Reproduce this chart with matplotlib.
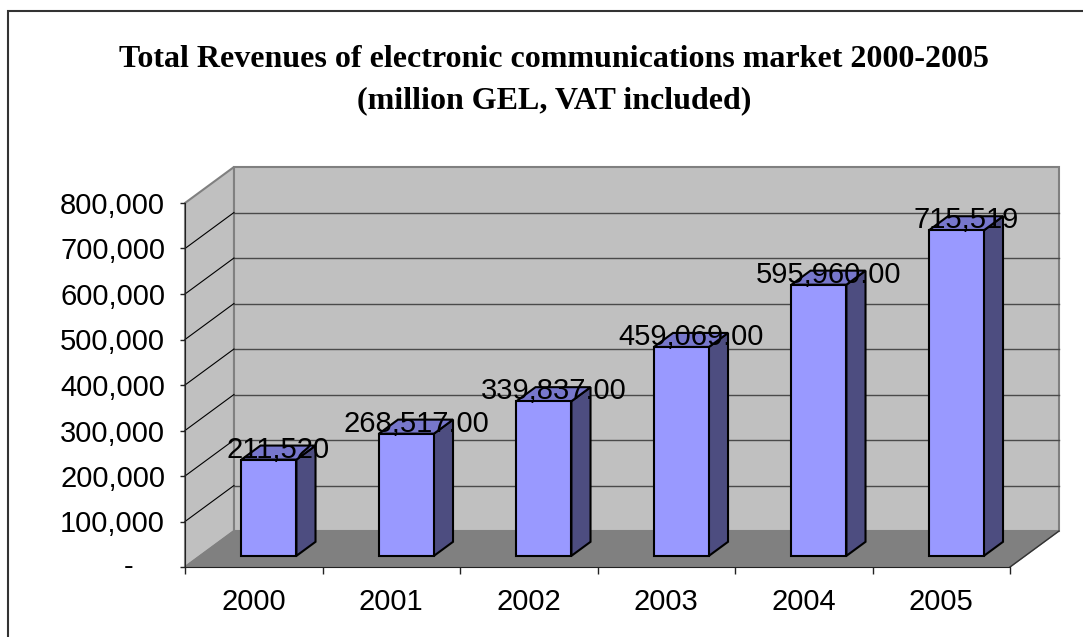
"""
Total revenues of the electronic communications market, 2000-2005,
drawn as an oblique 3D column chart in the classic spreadsheet style.
"""

import matplotlib
matplotlib.use("Agg")
import matplotlib.pyplot as plt
from matplotlib.patches import Polygon, Rectangle
from matplotlib.ticker import FixedLocator, FuncFormatter

years = ["2000", "2001", "2002", "2003", "2004", "2005"]
revenues = [211520, 268517, 339837, 459069, 595960, 715519]
label_decimals = [0, 2, 2, 2, 2, 0]
y_ticks = [0, 100000, 200000, 300000, 400000, 500000, 600000, 700000, 800000]

TITLE = ("Total Revenues of electronic communications market 2000-2005\n"
         "(million GEL, VAT included)")

# oblique projection: full depth of the plot box, in data units
DEPTH_X = 0.356      # categories
DEPTH_Y = 79100      # value units
BAR_FRONT = 0.31     # bar depth range, as a fraction of the full depth
BAR_BACK = 0.70
BAR_HALF = 0.2

WALL = "#c0c0c0"
FLOOR = "#808080"
EDGE = "#808080"
BAR_FACE = "#9999ff"
BAR_TOP = "#7777cc"
BAR_SIDE = "#4d4d80"

plt.rcParams["font.family"] = ["Liberation Sans", "DejaVu Sans"]


def pt(x, y, d):
    """Front-plane data point pushed back by depth fraction d."""
    return (x + DEPTH_X * d, y + DEPTH_Y * d)


def poly(ax, pts, face, edge, lw=1.0, z=1):
    ax.add_patch(Polygon(pts, closed=True, facecolor=face, edgecolor=edge,
                         linewidth=lw, zorder=z, clip_on=False))


fig = plt.figure(figsize=(10.83, 6.37), dpi=100)
ax = fig.add_axes([185 / 1083, 70 / 637, 825 / 1083, 364 / 637])
ax.set_xlim(-0.5, len(years) - 0.5)
ax.set_ylim(y_ticks[0], y_ticks[-1])
ax.patch.set_visible(False)

x0, x1 = -0.5, len(years) - 0.5
y0, y1 = y_ticks[0], y_ticks[-1]

# walls and floor
poly(ax, [pt(x0, y0, 1), pt(x1, y0, 1), pt(x1, y1, 1), pt(x0, y1, 1)], WALL, EDGE, 1.5, 0.5)
poly(ax, [pt(x0, y0, 0), pt(x0, y1, 0), pt(x0, y1, 1), pt(x0, y0, 1)], WALL, EDGE, 1.5, 0.6)
poly(ax, [pt(x0, y0, 0), pt(x1, y0, 0), pt(x1, y0, 1), pt(x0, y0, 1)], FLOOR, EDGE, 1.0, 0.7)
ax.plot(*zip(pt(x1, y0, 0), pt(x1, y0, 1)), color="#333333", lw=1.0, zorder=0.8, clip_on=False)

# gridlines across the back wall and the side wall
for v in y_ticks[1:-1]:
    ax.plot(*zip(pt(x0, v, 1), pt(x1, v, 1)), color="#4a4a4a", lw=1.0, zorder=0.9, clip_on=False)
    ax.plot(*zip(pt(x0, v, 0), pt(x0, v, 1)), color="black", lw=0.8, zorder=0.9, clip_on=False)

# columns
for i, v in enumerate(revenues):
    left, right = i - BAR_HALF, i + BAR_HALF
    poly(ax, [pt(right, 0, BAR_FRONT), pt(right, 0, BAR_BACK),
              pt(right, v, BAR_BACK), pt(right, v, BAR_FRONT)], BAR_SIDE, "black", 1.5, 2)
    poly(ax, [pt(left, v, BAR_FRONT), pt(right, v, BAR_FRONT),
              pt(right, v, BAR_BACK), pt(left, v, BAR_BACK)], BAR_TOP, "black", 1.5, 2)
    poly(ax, [pt(left, 0, BAR_FRONT), pt(right, 0, BAR_FRONT),
              pt(right, v, BAR_FRONT), pt(left, v, BAR_FRONT)], BAR_FACE, "black", 1.5, 2.1)

    label = f"{v:,.{label_decimals[i]}f}"
    mid = (BAR_FRONT + BAR_BACK) / 2
    ax.annotate(label, xy=(pt(i, v, mid)[0], pt(i, v, BAR_FRONT)[1]),
                xytext=(0, 2), textcoords="offset pixels",
                ha="center", va="baseline", fontsize=21, zorder=5,
                annotation_clip=False)

# front axes
for side in ("top", "right"):
    ax.spines[side].set_visible(False)
ax.spines["left"].set_color("#222222")
ax.spines["bottom"].set_color("#222222")
ax.spines["left"].set_zorder(1)
ax.spines["bottom"].set_zorder(1)

ax.yaxis.set_major_locator(FixedLocator(y_ticks))
ax.yaxis.set_major_formatter(FuncFormatter(lambda v, _: "" if v == 0 else f"{v:,.0f}"))
ax.tick_params(axis="y", direction="out", length=3.6, width=1, pad=10.8,
               labelsize=21, color="#222222")
# the zero label is a dash, set further left as in accounting format
ax.annotate("-", xy=(x0, 0), xytext=(-56, 0), textcoords="offset pixels",
            ha="center", va="center", fontsize=21, annotation_clip=False)

ax.set_xticks(range(len(years)))
ax.set_xticklabels(years)
ax.set_xticks([k - 0.5 for k in range(len(years) + 1)], minor=True)
ax.tick_params(axis="x", which="major", length=0, pad=15, labelsize=21)
ax.tick_params(axis="x", which="minor", direction="out", length=5, width=1, color="#222222")

fig.text(554 / 1083, 1 - 80 / 637, TITLE, ha="center", va="center",
         family=["Liberation Serif", "DejaVu Serif"], weight="bold",
         fontsize=23, linespacing=1.55)

# chart area border, running off the right and bottom edges
fig.patches.append(Rectangle((8 / 1083, -0.05), 1.05, 1 - 11 / 637 + 0.05,
                             transform=fig.transFigure, fill=False,
                             edgecolor="#333333", linewidth=1.5))

fig.savefig("out.png", dpi=100)
